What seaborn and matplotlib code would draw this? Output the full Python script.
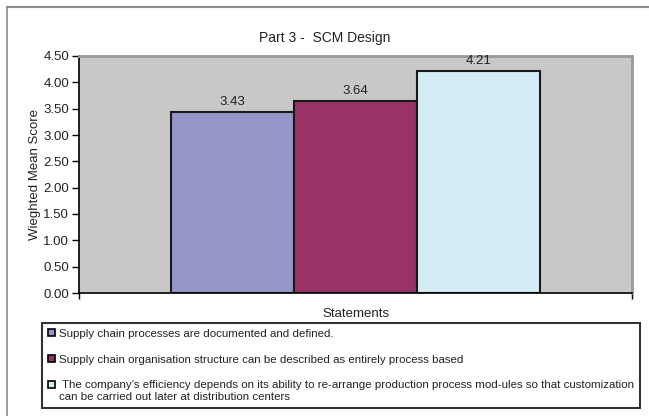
import matplotlib
matplotlib.use("Agg")
import matplotlib.pyplot as plt
import seaborn as sns
import pandas as pd
from matplotlib.patches import Patch, Rectangle
from matplotlib.lines import Line2D
from matplotlib.legend_handler import HandlerPatch

# Chart data
category = ["Statements"]
statements = [
    "Supply chain processes are documented and defined.",
    "Supply chain organisation structure can be described as entirely process based",
    " The company\u2019s efficiency depends on its ability to re-arrange production process mod-ules so that customization\ncan be carried out later at distribution centers",
]
scores = [3.43, 3.64, 4.21]
bar_colors = ["#9595C7", "#993366", "#D4ECF3"]
y_ticks = [0.0, 0.5, 1.0, 1.5, 2.0, 2.5, 3.0, 3.5, 4.0, 4.5]

sns.set_style("white")
plt.rcParams["font.family"] = ["Liberation Sans", "DejaVu Sans"]
text_color = "#222222"

df = pd.DataFrame({
    "cat": category * len(statements),
    "statement": statements,
    "score": scores,
})

W, H = 649, 416
fig = plt.figure(figsize=(W / 100, H / 100), dpi=100)
fig.patch.set_facecolor("white")

# plot area in pixel coordinates
left, right, top, bottom = 79, 632, 56, 293
ax = fig.add_axes([left / W, (H - bottom) / H, (right - left) / W, (bottom - top) / H])
ax.set_facecolor("#C8C8C8")

sns.barplot(data=df, x="cat", y="score", hue="statement",
            palette=bar_colors, hue_order=statements,
            width=2 / 3, gap=0, edgecolor="#1a1a1a", linewidth=1.5,
            saturation=1, legend=False, ax=ax)

ax.set_xlim(-0.5, 0.5)
ax.set_ylim(0, 4.5)
ax.set_yticks(y_ticks)
ax.set_yticklabels([f"{v:.2f}" for v in y_ticks], fontsize=9.5, color=text_color)
ax.set_xticks([-0.5, 0.5])
ax.set_xticklabels(["", ""])
ax.tick_params(axis="y", direction="out", length=5, width=1, color="black", pad=2, left=True)
ax.tick_params(axis="x", direction="out", length=4, width=1, color="black", bottom=True, pad=0)
ax.set_xlabel("Statements", fontsize=9.5, color=text_color, labelpad=7)
ax.set_ylabel("Wieghted Mean Score", fontsize=9.5, color=text_color, labelpad=2)

for side in ("left", "bottom"):
    ax.spines[side].set_color("black")
    ax.spines[side].set_linewidth(1.2)
for side in ("top", "right"):
    ax.spines[side].set_visible(True)
    ax.spines[side].set_color("#9a9a9a")
    ax.spines[side].set_linewidth(2)

# value labels above the bars
for cont in ax.containers:
    ax.bar_label(cont, labels=[f"{v:.2f}" for v in cont.datavalues],
                 padding=3, fontsize=9.5, color=text_color)

fig.text(0.5, 1 - 38 / H, "Part 3 -  SCM Design",
         ha="center", va="center", fontsize=10, color=text_color)


# legend markers: small squares, the wrapped entry keeps its marker on the first line
def square_marker(shift):
    def make(legend, orig_handle, xdescent, ydescent, width, height, fontsize):
        side = min(width, height)
        return Rectangle((-xdescent, -ydescent + (height - side) / 2 + shift), side, side)
    return make


handles = [Patch(facecolor=c, edgecolor="black", linewidth=1.2) for c in bar_colors]
handler_map = {
    handles[0]: HandlerPatch(patch_func=square_marker(0)),
    handles[1]: HandlerPatch(patch_func=square_marker(0)),
    handles[2]: HandlerPatch(patch_func=square_marker(4.5)),
}
lx0, lx1, ly0, ly1 = 42, 640, 323, 407
leg = fig.legend(handles, statements, loc="upper left",
                 bbox_to_anchor=(lx0 / W, 1 - ly1 / H, (lx1 - lx0) / W, (ly1 - ly0) / H),
                 mode="expand", fontsize=8.25, frameon=True, fancybox=False,
                 edgecolor="black", handlelength=0.6, handleheight=0.6,
                 handletextpad=0.35, labelspacing=1.38, borderpad=0.5,
                 borderaxespad=0, handler_map=handler_map)
leg.get_frame().set_linewidth(1.5)
for t in leg.get_texts():
    t.set_color(text_color)

# outer chart frame
fig.add_artist(Line2D([7 / W, 7 / W], [0, 1 - 7 / H], color="#8a8a8a", lw=1.2))
fig.add_artist(Line2D([7 / W, 1], [1 - 7 / H, 1 - 7 / H], color="#8a8a8a", lw=1.5))

fig.savefig("out.png", dpi=100)
